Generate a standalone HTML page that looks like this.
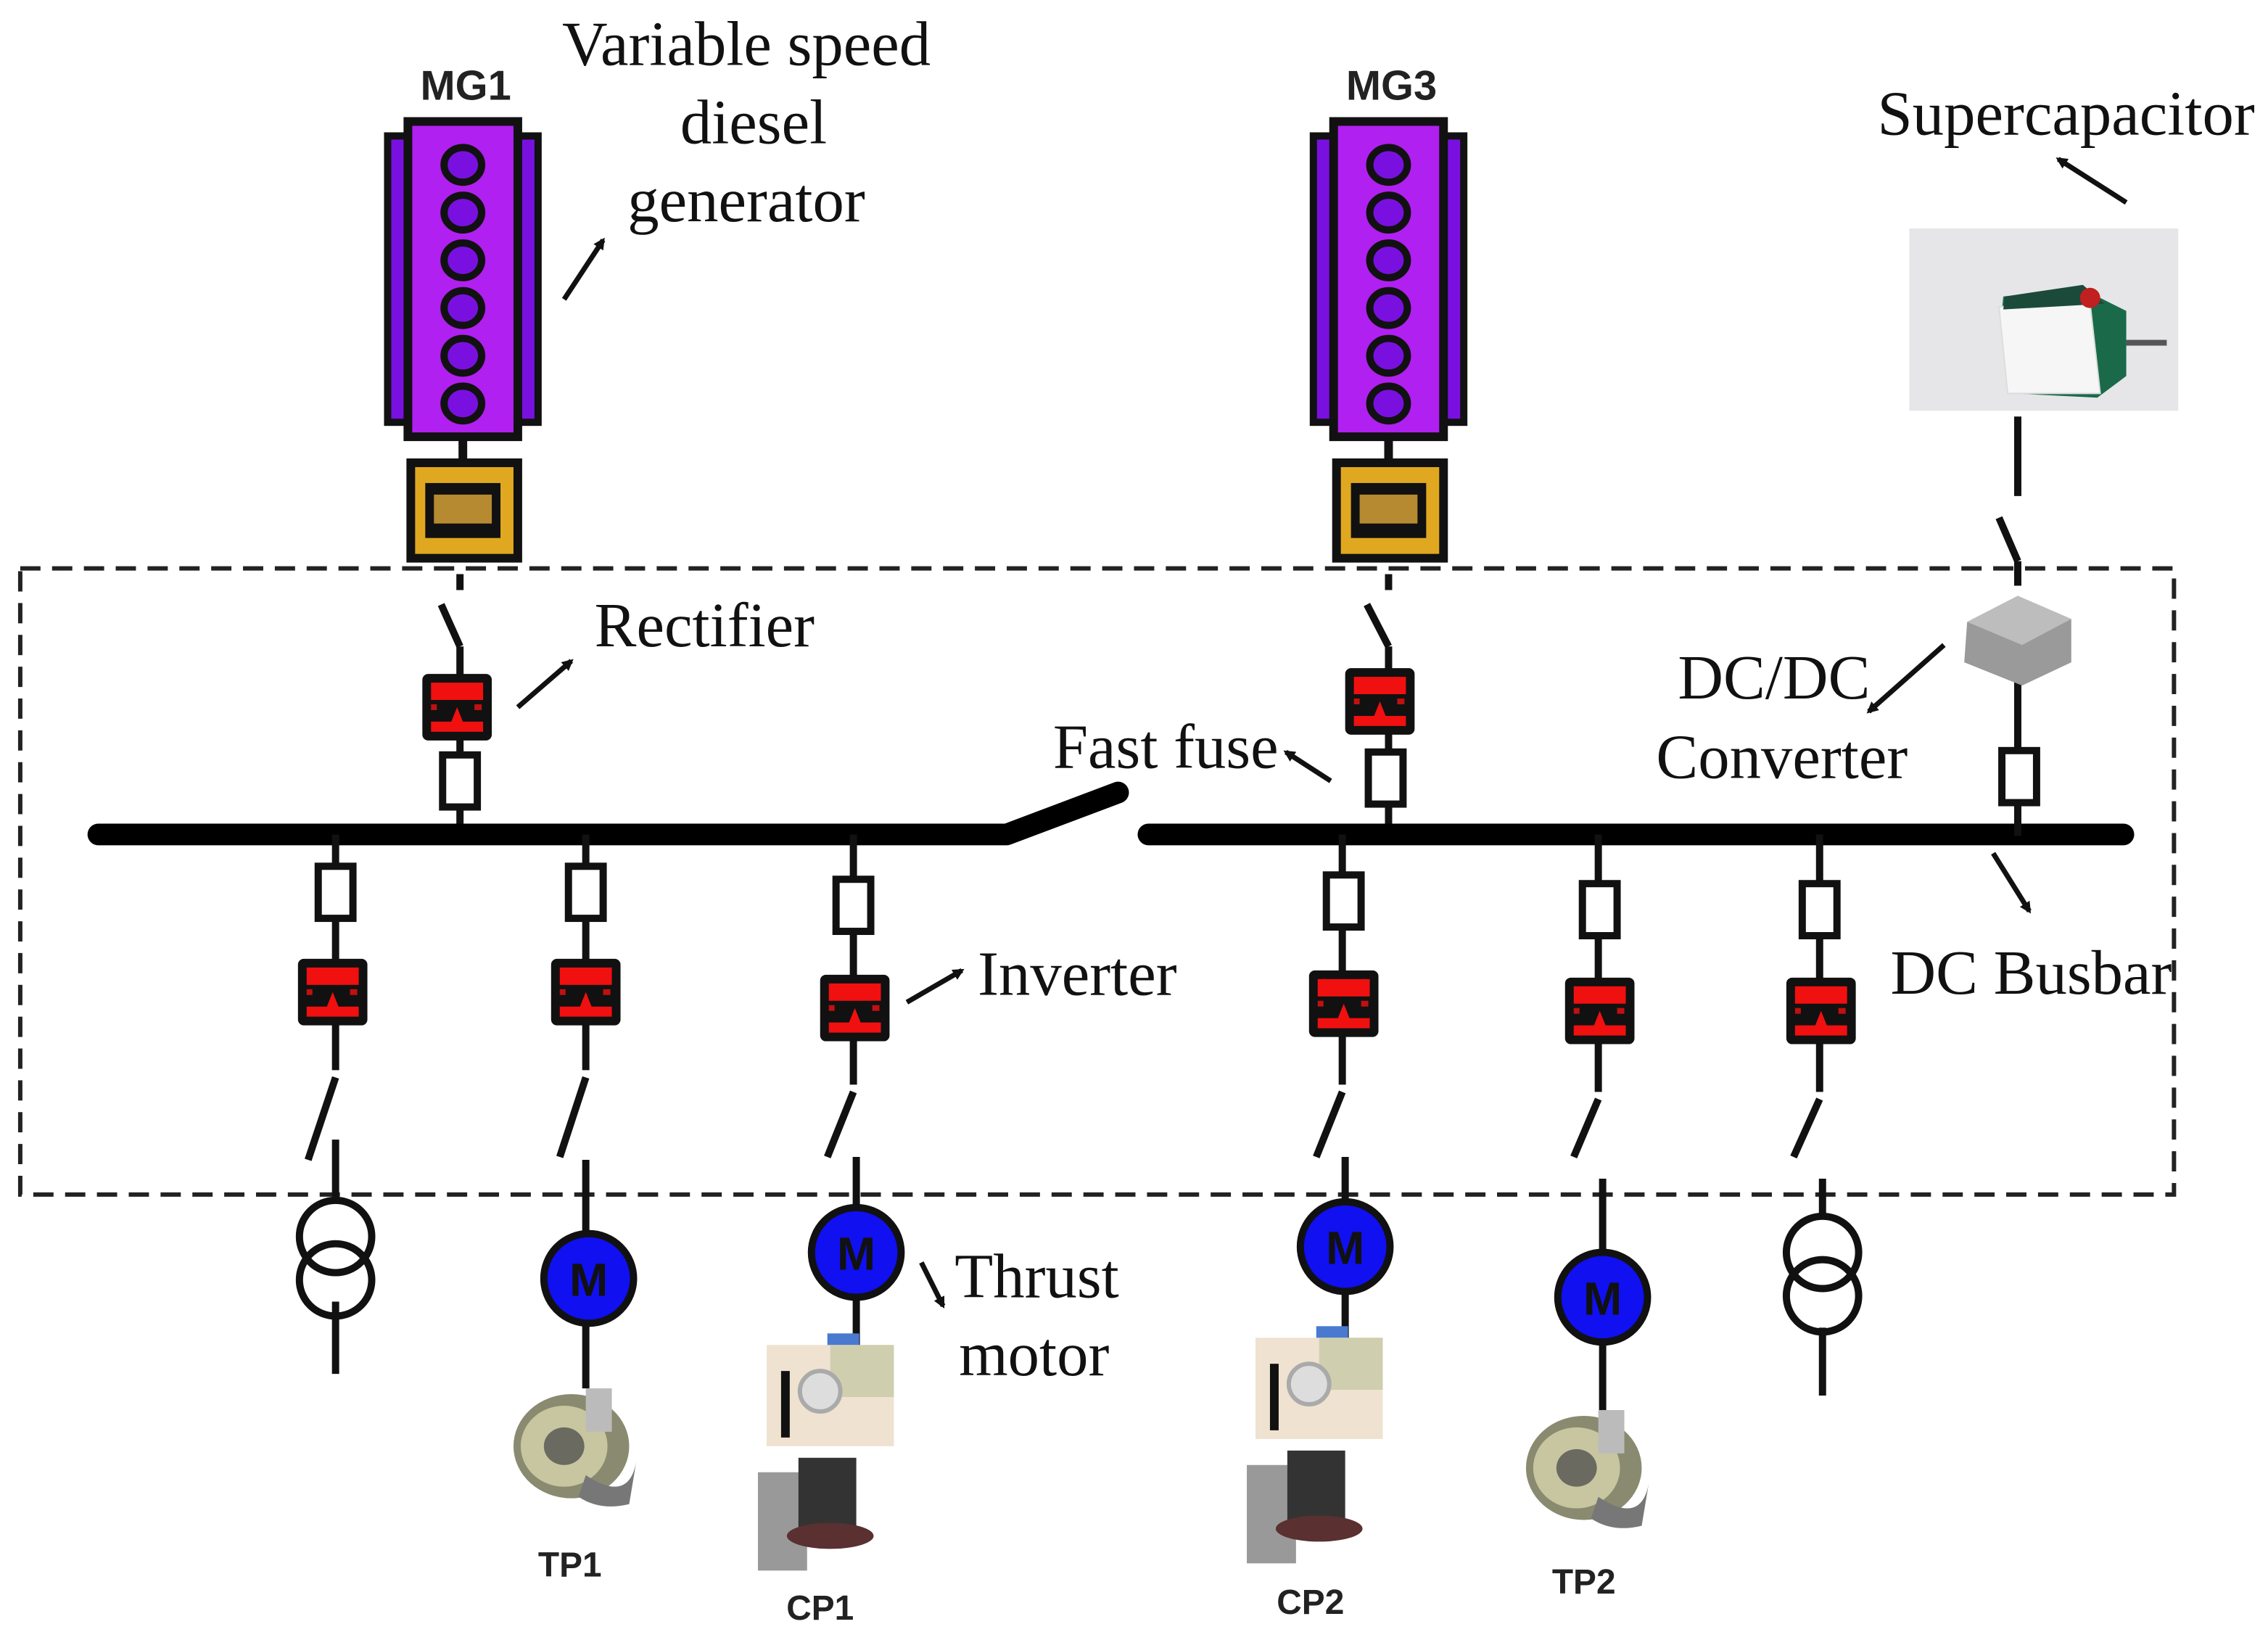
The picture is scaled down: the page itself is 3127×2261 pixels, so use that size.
<!DOCTYPE html>
<html><head><meta charset="utf-8"><style>
html,body{margin:0;padding:0;background:#fff;}
svg{display:block;}
.t{font-family:"Liberation Serif",serif;font-size:43.5px;fill:#111;}
.b{font-family:"Liberation Sans",sans-serif;font-weight:bold;fill:#222;}
</style></head><body>
<svg width="3127" height="2261" viewBox="0 0 1568 1134" preserveAspectRatio="none" xmlns="http://www.w3.org/2000/svg">
<defs>
<marker id="ah" markerWidth="8" markerHeight="8" refX="6" refY="4" orient="auto" markerUnits="userSpaceOnUse" viewBox="0 0 8 8">
<path d="M0,0 L8,4 L0,8 z" fill="#111"/></marker>
<g id="eng">
<rect x="-52" y="10" width="22" height="198" fill="#7a10e0" stroke="#111" stroke-width="5"/>
<rect x="30" y="10" width="22" height="198" fill="#7a10e0" stroke="#111" stroke-width="5"/>
<rect x="-38" y="0" width="76" height="218" fill="#b020f0" stroke="#111" stroke-width="6"/>
<g fill="#7a10e0" stroke="#111" stroke-width="5">
<ellipse cx="0" cy="30" rx="13" ry="12"/><ellipse cx="0" cy="63" rx="13" ry="12"/>
<ellipse cx="0" cy="96" rx="13" ry="12"/><ellipse cx="0" cy="129" rx="13" ry="12"/>
<ellipse cx="0" cy="162" rx="13" ry="12"/><ellipse cx="0" cy="195" rx="13" ry="12"/></g>
<line x1="0" y1="218" x2="0" y2="245" stroke="#111" stroke-width="6"/>
<rect x="-36" y="236" width="74" height="66" fill="#e0a820" stroke="#111" stroke-width="6"/>
<rect x="-26" y="250" width="52" height="38" fill="#111"/>
<rect x="-20" y="258" width="40" height="20" fill="#b58a30"/>
</g>
<g id="conv">
<rect x="-24" y="-23" width="48" height="46" rx="4" fill="#111"/>
<rect x="-18" y="-17" width="36" height="12" fill="#f01010"/>
<path d="M-18,17 L-18,10 L-4,10 L0,0 L4,10 L18,10 L18,17 z" fill="#f01010"/>
<rect x="-18" y="-2" width="4" height="4" fill="#c01010"/><rect x="12" y="-2" width="5" height="4" fill="#c01010"/>
</g>
<g id="fuse"><rect x="-12" y="-18" width="24" height="36" fill="#fff" stroke="#111" stroke-width="5"/></g>
<g id="mot"><circle r="31" fill="#1010f0" stroke="#111" stroke-width="5"/>
<text x="0" y="12" text-anchor="middle" class="b" font-size="32" style="fill:#111">M</text></g>
<g id="tp">
<ellipse cx="0" cy="40" rx="40" ry="36" fill="#8a8a70"/>
<ellipse cx="-5" cy="40" rx="30" ry="28" fill="#c8c6a0"/>
<ellipse cx="-5" cy="40" rx="14" ry="13" fill="#6a6a60"/>
<rect x="10" y="0" width="18" height="30" fill="#bbb"/>
<path d="M10,60 Q40,80 45,50 L40,80 Q20,85 5,75z" fill="#777"/>
</g>
<g id="cp">
<rect x="-12" y="-8" width="22" height="16" fill="#4a7ad0"/>
<rect x="-54" y="0" width="88" height="70" fill="#efe2d0"/>
<rect x="-10" y="0" width="44" height="36" fill="#cfcfb0"/>
<circle cx="-17" cy="32" r="14" fill="#ddd" stroke="#aaa" stroke-width="3"/>
<rect x="-44" y="18" width="6" height="46" fill="#111"/>
<rect x="-60" y="88" width="34" height="68" fill="#999"/>
<rect x="-32" y="78" width="40" height="54" fill="#333"/>
<ellipse cx="-10" cy="132" rx="30" ry="9" fill="#5a3030"/>
</g>
</defs>
<rect width="1568" height="1134" fill="#fff"/>
<rect x="14" y="393" width="1489" height="433" fill="none" stroke="#222" stroke-width="3" stroke-dasharray="14,8"/>
<text x="322" y="69" text-anchor="middle" class="b" font-size="29">MG1</text>
<use href="#eng" x="320" y="84"/>
<g stroke="#111" stroke-width="5" fill="none">
<line x1="318" y1="397" x2="318" y2="408"/>
<line x1="305" y1="418" x2="318" y2="447"/>
<line x1="318" y1="447" x2="318" y2="578"/>
<line x1="960" y1="397" x2="960" y2="408"/>
<line x1="945" y1="418" x2="960" y2="447"/>
<line x1="960" y1="447" x2="960" y2="578"/>
</g>
<use href="#conv" x="316" y="489"/>
<use href="#fuse" x="318" y="540"/>
<text x="962" y="69" text-anchor="middle" class="b" font-size="29">MG3</text>
<use href="#eng" x="960" y="84"/>
<use href="#conv" x="954" y="485"/>
<use href="#fuse" x="958" y="538"/>
<path d="M68,577 L696,577 L773,548" stroke="#000" stroke-width="15" fill="none" stroke-linecap="round" stroke-linejoin="round"/>
<line x1="794" y1="577" x2="1468" y2="577" stroke="#000" stroke-width="15" stroke-linecap="round"/>
<!-- supercap -->
<rect x="1320" y="158" width="186" height="126" fill="#e6e6e8"/>
<path d="M1385,205 L1440,200 L1470,215 L1470,260 L1450,275 L1390,272 L1383,225 Z" fill="#1a6a4a"/>
<path d="M1382,212 L1445,210 L1452,272 L1388,272 Z" fill="#f6f6f6" stroke="#ddd" stroke-width="1"/>
<path d="M1386,205 L1440,197 L1455,210 L1385,214 Z" fill="#1c4a3a"/>
<circle cx="1445" cy="206" r="7" fill="#c02020"/>
<rect x="1470" y="235" width="28" height="4" fill="#555"/>
<g stroke="#111" stroke-width="5" fill="none">
<line x1="1395" y1="288" x2="1395" y2="343"/>
<line x1="1382" y1="358" x2="1395" y2="388"/>
<line x1="1395" y1="388" x2="1395" y2="405"/>
<line x1="1395" y1="470" x2="1395" y2="578"/>
</g>
<path d="M1360,430 L1395,412 L1432,428 L1432,458 L1398,474 L1358,458 Z" fill="#9a9a9a"/>
<path d="M1360,430 L1395,412 L1432,428 L1398,446 Z" fill="#bdbdbd"/>
<use href="#fuse" x="1396" y="537"/>
<g stroke="#111" stroke-width="5" fill="none">
<line x1="232" y1="577" x2="232" y2="740"/><line x1="232" y1="745" x2="213" y2="802"/><line x1="232" y1="788" x2="232" y2="832"/>
<line x1="232" y1="900" x2="232" y2="950"/>
<line x1="405" y1="577" x2="405" y2="740"/><line x1="405" y1="745" x2="387" y2="800"/><line x1="405" y1="802" x2="405" y2="960"/>
<line x1="590" y1="577" x2="590" y2="750"/><line x1="590" y1="755" x2="572" y2="800"/><line x1="592" y1="800" x2="592" y2="935"/>
<line x1="928" y1="577" x2="928" y2="750"/><line x1="928" y1="755" x2="910" y2="800"/><line x1="930" y1="800" x2="930" y2="930"/>
<line x1="1105" y1="577" x2="1105" y2="755"/><line x1="1105" y1="760" x2="1088" y2="800"/><line x1="1108" y1="815" x2="1108" y2="975"/>
<line x1="1258" y1="577" x2="1258" y2="755"/><line x1="1258" y1="760" x2="1240" y2="800"/><line x1="1260" y1="815" x2="1260" y2="842"/>
<line x1="1260" y1="918" x2="1260" y2="965"/>
<circle cx="232" cy="855" r="25"/><circle cx="232" cy="885" r="25"/>
<circle cx="1260" cy="866" r="25"/><circle cx="1260" cy="896" r="25"/>
</g>
<use href="#fuse" x="232" y="617"/><use href="#conv" x="230" y="686"/>
<use href="#fuse" x="405" y="617"/><use href="#conv" x="405" y="686"/>
<use href="#fuse" x="590" y="626"/><use href="#conv" x="591" y="697"/>
<use href="#fuse" x="929" y="623"/><use href="#conv" x="929" y="694"/>
<use href="#fuse" x="1106" y="629"/><use href="#conv" x="1106" y="699"/>
<use href="#fuse" x="1258" y="629"/><use href="#conv" x="1259" y="699"/>
<use href="#mot" x="407" y="884"/>
<use href="#mot" x="592" y="866"/>
<use href="#mot" x="930" y="862"/>
<use href="#mot" x="1108" y="897"/>
<use href="#tp" x="395" y="960"/>
<use href="#tp" x="1095" y="975"/>
<use href="#cp" x="584" y="930"/>
<use href="#cp" x="922" y="925"/>
<text x="394" y="1090" text-anchor="middle" class="b" font-size="24">TP1</text>
<text x="567" y="1120" text-anchor="middle" class="b" font-size="24">CP1</text>
<text x="906" y="1116" text-anchor="middle" class="b" font-size="24">CP2</text>
<text x="1095" y="1102" text-anchor="middle" class="b" font-size="24">TP2</text>
<text x="516" y="45" text-anchor="middle" class="t">Variable speed</text>
<text x="521" y="99" text-anchor="middle" class="t">diesel</text>
<text x="516" y="153" text-anchor="middle" class="t">generator</text>
<text x="411" y="447" class="t">Rectifier</text>
<text x="728" y="531" class="t">Fast fuse</text>
<text x="1298" y="93" class="t">Supercapacitor</text>
<text x="1160" y="483" class="t">DC/DC</text>
<text x="1145" y="538" class="t">Converter</text>
<text x="1307" y="687" class="t">DC Busbar</text>
<text x="676" y="688" class="t">Inverter</text>
<text x="660" y="897" class="t">Thrust</text>
<text x="663" y="951" class="t">motor</text>
<g stroke="#111" stroke-width="3.5" marker-end="url(#ah)">
<line x1="390" y1="207" x2="417" y2="166"/>
<line x1="358" y1="489" x2="395" y2="457"/>
<line x1="920" y1="540" x2="889" y2="520"/>
<line x1="1470" y1="140" x2="1423" y2="110"/>
<line x1="1344" y1="446" x2="1292" y2="492"/>
<line x1="1378" y1="590" x2="1403" y2="630"/>
<line x1="627" y1="693" x2="665" y2="671"/>
<line x1="637" y1="873" x2="652" y2="903"/>
</g>
</svg>
</body></html>
